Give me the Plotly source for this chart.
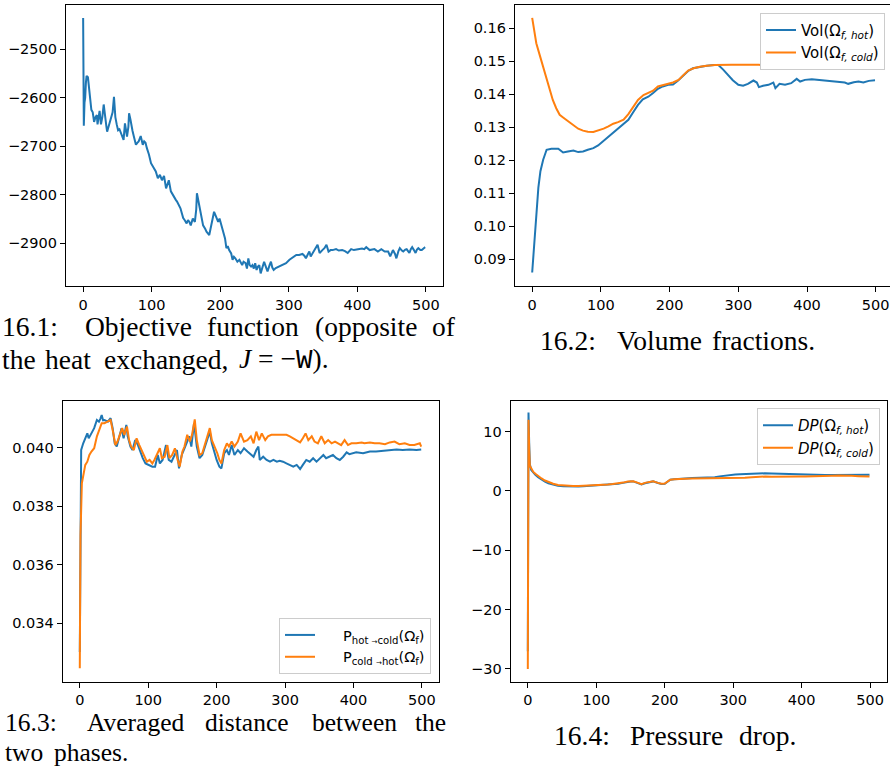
import plotly.graph_objects as go

W, H = 890, 767
BLUE, ORANGE = "#1f77b4", "#ff7f0e"

# ---------------- data ----------------
obj_iter = [0,1,2,3,4,5,7,9,11,12,14,16,18,20,21,23,24,26,28,30,32,34,35,37,39,41,43,45,47,49,
            51,53,55,57,59,61,62,64,66,67,69,70,72,74,77,79,81,84,87,89,91,93,96,99,103,106,109,112,115,118,
            121,125,128,132,135,137,140,142,144,146,148,151,153,155,157,160,163,165,166,167,169,172,175,178,180,184,187,189,191,193,
            195,197,199,201,203,205,207,209,211,213,216,218,220,222,225,228,230,232,234,237,239,241,243,245,247,249,251,253,255,257,
            259,262,264,267,269,272,274,276,278,281,286,291,296,301,306,311,315,320,323,325,328,330,332,335,337,340,342,345,347,349,
            352,355,358,361,364,369,373,378,382,386,391,395,399,403,407,410,413,418,422,425,430,435,440,445,448,450,452,455,457,460,
            462,465,467,470,472,474,476,478,480,483,485,487,489,492,494,497,499]
obj_val = [-2436,-2658,-2610,-2600,-2570,-2555,-2558,-2585,-2620,-2625,-2630,-2650,-2640,-2636,-2655,-2640,-2627,-2655,-2640,-2614,
           -2643,-2660,-2670,-2660,-2650,-2640,-2630,-2598,-2640,-2655,-2667,-2665,-2673,-2680,-2687,-2653,-2665,-2680,-2660,-2632,
           -2645,-2656,-2668,-2680,-2697,-2693,-2690,-2679,-2697,-2690,-2693,-2704,-2717,-2735,-2745,-2752,-2766,-2759,-2770,-2761,
           -2787,-2770,-2793,-2804,-2810,-2814,-2821,-2828,-2838,-2848,-2852,-2859,-2852,-2856,-2863,-2849,-2856,-2830,-2797,-2805,
           -2821,-2845,-2863,-2870,-2876,-2883,-2863,-2845,-2835,-2842,-2848,-2856,-2849,-2860,-2870,-2880,-2890,-2910,-2906,-2914,
           -2921,-2934,-2928,-2931,-2938,-2934,-2940,-2945,-2938,-2941,-2952,-2931,-2945,-2948,-2945,-2952,-2941,-2955,-2948,-2945,
           -2962,-2950,-2938,-2950,-2958,-2945,-2938,-2950,-2955,-2951,-2948,-2945,-2941,-2934,-2928,-2924,-2924,-2922,-2926,-2931,
           -2922,-2917,-2927,-2920,-2914,-2908,-2903,-2920,-2916,-2914,-2910,-2903,-2917,-2914,-2914,-2912,-2915,-2914,-2916,-2920,
           -2912,-2914,-2913,-2912,-2911,-2912,-2908,-2914,-2913,-2912,-2917,-2912,-2917,-2917,-2927,-2920,-2914,-2922,-2931,-2916,
           -2910,-2915,-2917,-2913,-2912,-2916,-2920,-2912,-2908,-2915,-2920,-2913,-2910,-2914,-2914,-2910,-2908]

volhot_iter = [0,2,4,6,7,9,12,16,21,28,38,45,52,60,67,74,81,89,96,103,110,118,125,133,140,147,154,161,169,176,
               183,190,198,205,212,220,227,234,244,254,265,271,278,285,292,300,307,314,322,327,330,336,344,351,354,360,368,377,385,390,
               397,407,417,426,436,446,455,460,468,475,482,490,499]
volhot_val = [0.0860,0.0920,0.0966,0.1030,0.1066,0.1117,0.1167,0.1202,0.1232,0.1235,0.1235,0.1224,0.1227,0.1230,0.1225,0.1227,0.1232,0.1237,0.1245,0.1257,
              0.1271,0.1285,0.1295,0.1311,0.1323,0.1346,0.1368,0.1385,0.1393,0.1404,0.1417,0.1424,0.1429,0.1430,0.1441,0.1457,0.1471,0.1479,0.1483,0.1487,
              0.1489,0.1489,0.1475,0.1459,0.1443,0.1429,0.1426,0.1432,0.1442,0.1436,0.1422,0.1426,0.1429,0.1436,0.1419,0.1432,0.1429,0.1434,0.1447,0.1439,
              0.1444,0.1446,0.1444,0.1442,0.1441,0.1439,0.1436,0.1432,0.1437,0.1439,0.1436,0.1441,0.1443]
volcold_iter = [0,3,6,11,16,21,26,30,35,40,45,53,60,67,74,81,89,96,104,111,118,125,133,140,147,154,162,169,176,183,
                191,198,205,213,220,227,235,244,254,266,290,310,330,340,360,380,400,420,440,460,480,499]
volcold_val = [0.1632,0.1595,0.1555,0.1519,0.1484,0.1449,0.1414,0.1383,0.1358,0.1338,0.1330,0.1318,0.1308,0.1296,0.1290,0.1287,0.1286,0.1290,0.1296,0.1303,
               0.1311,0.1316,0.1323,0.1340,0.1363,0.1383,0.1398,0.1404,0.1411,0.1424,0.1429,0.1433,0.1436,0.1444,0.1459,0.1472,0.1479,0.1484,0.1487,0.1489,
               0.1490,0.1491,0.1490,0.1487,0.1486,0.1487,0.1488,0.1488,0.1489,0.1487,0.1488,0.1487]

dhot_iter = [0,1,2,5,8,11,13,17,21,25,28,30,32,34,36,41,45,48,51,54,58,61,64,68,70,74,77,81,85,88,
             92,96,101,106,110,114,117,121,126,130,134,138,142,145,149,153,156,160,163,167,171,175,179,182,186,190,193,197,200,204,
             207,211,215,218,222,226,231,235,240,245,250,254,258,261,263,268,273,278,283,288,292,297,302,307,312,317,322,326,331,336,
             341,346,351,356,360,365,370,375,380,385,390,394,404,414,424,433,443,453,463,472,482,492,499]
dhot_val = [0.03301,0.03850,0.03993,0.04016,0.04033,0.04050,0.04033,0.04050,0.04068,0.04096,0.04090,0.04100,0.04113,0.04095,0.04096,0.04090,0.04102,0.04068,0.04016,0.04005,
            0.04040,0.04068,0.04033,0.04079,0.04040,0.04005,0.03993,0.04027,0.04010,0.03987,0.03965,0.03947,0.03942,0.03936,0.03936,0.03976,0.03947,0.03959,0.04010,0.03959,
            0.03953,0.03976,0.03993,0.03930,0.03976,0.03999,0.04016,0.04040,0.04005,0.04085,0.04005,0.03965,0.03976,0.03999,0.04027,0.04056,0.04016,0.03982,0.03959,0.03936,
            0.03930,0.03982,0.03993,0.03976,0.04010,0.03976,0.03993,0.03982,0.03999,0.03988,0.03976,0.03970,0.03993,0.04005,0.03959,0.03970,0.03959,0.03953,0.03959,0.03953,
            0.03956,0.03953,0.03947,0.03942,0.03936,0.03942,0.03928,0.03942,0.03959,0.03953,0.03965,0.03953,0.03965,0.03976,0.03965,0.03970,0.03976,0.03965,0.03959,0.03970,
            0.03985,0.03979,0.03985,0.03982,0.03988,0.03988,0.03991,0.03993,0.03995,0.03993,0.03995,0.03993,0.03995]
dcold_iter = [0,1,3,5,8,11,14,17,21,25,29,32,36,41,45,49,52,55,59,62,65,69,72,75,79,83,87,91,95,98,
              102,106,109,113,117,120,124,128,131,135,139,143,146,150,153,157,161,164,168,171,175,179,182,186,190,193,197,201,204,207,
              211,215,218,222,226,231,235,240,245,250,254,258,262,266,271,275,280,288,295,302,307,312,317,322,326,330,334,339,343,348,
              353,358,363,368,373,378,382,387,392,397,404,412,416,424,431,438,446,453,460,467,475,482,489,497,499]
dcold_val = [0.03245,0.03700,0.03879,0.03902,0.03942,0.03953,0.03976,0.03988,0.03999,0.04040,0.04068,0.04085,0.04085,0.04090,0.04096,0.04050,0.04010,0.04022,0.04050,0.04068,
             0.04045,0.04073,0.04027,0.04005,0.03993,0.04033,0.04010,0.03988,0.03965,0.03953,0.03959,0.03947,0.03959,0.03982,0.03999,0.03965,0.03970,0.04010,0.03965,0.03976,
             0.03999,0.03959,0.03936,0.03988,0.04005,0.04045,0.04022,0.04045,0.04098,0.04027,0.03976,0.03982,0.04005,0.04033,0.04068,0.04027,0.04005,0.03982,0.03959,0.03947,
             0.03993,0.04016,0.04005,0.04022,0.04005,0.04022,0.04050,0.04022,0.04027,0.04040,0.04016,0.04056,0.04027,0.04050,0.04027,0.04040,0.04045,0.04045,0.04045,0.04045,
             0.04040,0.04033,0.04027,0.04019,0.04033,0.04050,0.04027,0.04040,0.04022,0.04016,0.04040,0.04016,0.04027,0.04016,0.04022,0.04016,0.04010,0.04027,0.04010,0.04016,
             0.04016,0.04019,0.04016,0.04019,0.04016,0.04016,0.04013,0.04019,0.04022,0.04013,0.04016,0.04010,0.04010,0.04016,0.04005]

dphot_iter = [0,1,2,3,5,8,11,15,20,25,30,37,44,52,59,66,74,81,88,95,103,110,117,124,132,139,146,150,154,160,
              166,171,176,183,190,195,200,204,208,214,220,230,240,250,259,266,273,280,288,296,303,310,317,326,337,346,356,366,376,385,
              395,405,415,425,434,444,454,463,473,483,492,499]
dphot_val = [-27,13.2,8,4.5,3.5,3.0,2.7,2.3,1.9,1.55,1.3,1.05,0.87,0.8,0.76,0.75,0.76,0.78,0.82,0.9,
             0.98,1.05,1.1,1.15,1.2,1.35,1.54,1.6,1.6,1.35,1.1,1.3,1.43,1.6,1.32,1.15,1.2,1.5,1.88,1.95,
             2.05,2.1,2.16,2.18,2.2,2.25,2.3,2.45,2.6,2.7,2.77,2.8,2.83,2.9,3.0,2.97,2.94,2.9,2.83,2.8,
             2.77,2.72,2.66,2.66,2.66,2.7,2.72,2.72,2.72,2.75,2.72,2.72]
dpcold_iter = [0,1,2,3,5,8,11,15,20,25,30,37,44,52,59,66,74,81,88,95,103,110,117,124,132,139,146,150,154,160,
               166,171,176,183,190,195,200,204,208,214,220,230,240,250,259,268,278,288,298,308,317,327,337,347,356,366,376,386,395,405,
               415,425,434,444,454,464,473,483,492,499]
dpcold_val = [-30,12,7,4.2,3.8,3.2,2.9,2.5,2.1,1.75,1.5,1.2,1.0,0.9,0.85,0.82,0.82,0.85,0.88,0.95,
              1.0,1.05,1.1,1.18,1.25,1.4,1.6,1.65,1.62,1.4,1.15,1.35,1.45,1.62,1.35,1.2,1.25,1.55,1.9,1.95,
              2.02,2.05,2.1,2.1,2.12,2.1,2.13,2.16,2.16,2.16,2.22,2.3,2.4,2.43,2.4,2.38,2.4,2.43,2.43,2.43,
              2.43,2.43,2.48,2.55,2.58,2.6,2.55,2.49,2.45,2.43]

x_ticks = [0, 100, 200, 300, 400, 500]
obj_ticks = [-2900, -2800, -2700, -2600, -2500]
vol_ticks = [0.09, 0.10, 0.11, 0.12, 0.13, 0.14, 0.15, 0.16]
dist_ticks = [0.034, 0.036, 0.038, 0.040]
dp_ticks = [-30, -20, -10, 0, 10]

# ---------------- figure ----------------
fig = go.Figure()
LW = 2
fig.add_trace(go.Scatter(x=obj_iter, y=obj_val, mode="lines", line=dict(color=BLUE, width=LW),
                         xaxis="x", yaxis="y", showlegend=False))
fig.add_trace(go.Scatter(x=volhot_iter, y=volhot_val, mode="lines", line=dict(color=BLUE, width=LW),
                         xaxis="x2", yaxis="y2", name="Vol(Ω<sub><i>f, hot</i></sub>)", legend="legend"))
fig.add_trace(go.Scatter(x=volcold_iter, y=volcold_val, mode="lines", line=dict(color=ORANGE, width=LW),
                         xaxis="x2", yaxis="y2", name="Vol(Ω<sub><i>f, cold</i></sub>)", legend="legend"))
fig.add_trace(go.Scatter(x=dhot_iter, y=dhot_val, mode="lines", line=dict(color=BLUE, width=LW),
                         xaxis="x3", yaxis="y3",
                         name="\u00a0\u00a0\u00a0\u00a0\u00a0P<sub>hot <span style='font-size:7px'>→</span>cold</sub>(Ω<sub>f</sub>)",
                         legend="legend2"))
fig.add_trace(go.Scatter(x=dcold_iter, y=dcold_val, mode="lines", line=dict(color=ORANGE, width=LW),
                         xaxis="x3", yaxis="y3",
                         name="\u00a0\u00a0\u00a0\u00a0\u00a0P<sub>cold <span style='font-size:7px'>→</span>hot</sub>(Ω<sub>f</sub>)",
                         legend="legend2"))
fig.add_trace(go.Scatter(x=dphot_iter, y=dphot_val, mode="lines", line=dict(color=BLUE, width=LW),
                         xaxis="x4", yaxis="y4", name="<i>DP</i>(Ω<sub><i>f, hot</i></sub>)", legend="legend3"))
fig.add_trace(go.Scatter(x=dpcold_iter, y=dpcold_val, mode="lines", line=dict(color=ORANGE, width=LW),
                         xaxis="x4", yaxis="y4", name="<i>DP</i>(Ω<sub><i>f, cold</i></sub>)", legend="legend3"))

TICKFONT = dict(family="DejaVu Sans", size=14.5, color="black")


def ax(domain, rng, tickvals, anchor, mirror=True, fmt=None):
    d = dict(domain=domain, range=rng, tickvals=tickvals, anchor=anchor,
             showline=True, linecolor="black", linewidth=1.3, mirror=mirror,
             ticks="outside", ticklen=5, tickwidth=1.2, tickcolor="black",
             showgrid=False, zeroline=False, tickfont=TICKFONT)
    if fmt:
        d["tickformat"] = fmt
    return d


def px_x(a, b):
    return [a / W, b / W]


def px_y(top, bottom):
    return [1 - bottom / H, 1 - top / H]


LEGFONT = dict(family="DejaVu Sans", size=15, color="black")
fig.update_layout(
    width=W, height=H, margin=dict(l=0, r=0, t=0, b=0),
    paper_bgcolor="white", plot_bgcolor="white",
    xaxis=ax(px_x(66, 443), [-25, 525], x_ticks, "y"),
    yaxis=ax(px_y(5, 286), [-2988, -2409], obj_ticks, "x"),
    xaxis2=ax(px_x(515, 890), [-25, 520.8], x_ticks, "y2"),
    yaxis2=ax(px_y(5, 286), [0.0819, 0.1671], vol_ticks, "x2", mirror=False, fmt=".2f"),
    xaxis3=ax(px_x(62.7, 439), [-25, 525], x_ticks, "y3"),
    yaxis3=ax(px_y(401, 681.7), [0.03199, 0.04161], dist_ticks, "x3", fmt=".3f"),
    xaxis4=ax(px_x(510.7, 887.3), [-25, 525], x_ticks, "y4"),
    yaxis4=ax(px_y(400.7, 681.7), [-32.15, 15.2], dp_ticks, "x4"),
    legend=dict(x=885 / W, y=1 - 12.7 / H, xanchor="right", yanchor="top",
                bgcolor="white", bordercolor="#cccccc", borderwidth=1, font=LEGFONT),
    legend2=dict(x=431 / W, y=1 - 674 / H, xanchor="right", yanchor="bottom",
                 bgcolor="white", bordercolor="#cccccc", borderwidth=1,
                 font=dict(family="DejaVu Sans", size=14.5, color="black")),
    legend3=dict(x=880 / W, y=1 - 408 / H, xanchor="right", yanchor="top",
                 bgcolor="white", bordercolor="#cccccc", borderwidth=1, font=LEGFONT),
)

# ---------------- captions ----------------
CAP = 27.5
CAP3 = 25.5
captions = [
    ("16.1:", 0, 326, CAP), ("Objective", 83, 326, CAP), ("function", 205, 326, CAP),
    ("(opposite", 313, 326, CAP), ("of", 430, 326, CAP),
    ("the", 0, 359, CAP), ("heat", 43, 359, CAP), ("exchanged,", 102, 359, CAP),
    ("<i>J</i> = −<span style='font-family:Liberation Mono'>W</span>).", 237, 359, CAP),
    ("16.2:", 538, 341, CAP), ("Volume", 615, 341, CAP), ("fractions.", 710, 341, CAP),
    ("16.3:", 3, 722, CAP3), ("Averaged", 85, 722, CAP3), ("distance", 203, 722, CAP3),
    ("between", 310, 722, CAP3), ("the", 413, 722, CAP3),
    ("two", 3, 752, CAP3), ("phases.", 52, 752, CAP3),
    ("16.4:", 552, 735, CAP), ("Pressure", 628, 735, CAP), ("drop.", 737, 735, CAP),
]
for text, xp, yp, fs in captions:
    fig.add_annotation(text=text, x=xp / W, y=1 - yp / H, xref="paper", yref="paper",
                       xanchor="left", yanchor="middle", showarrow=False,
                       font=dict(family="Liberation Serif", size=fs, color="black"))

fig.write_html("out.html")
